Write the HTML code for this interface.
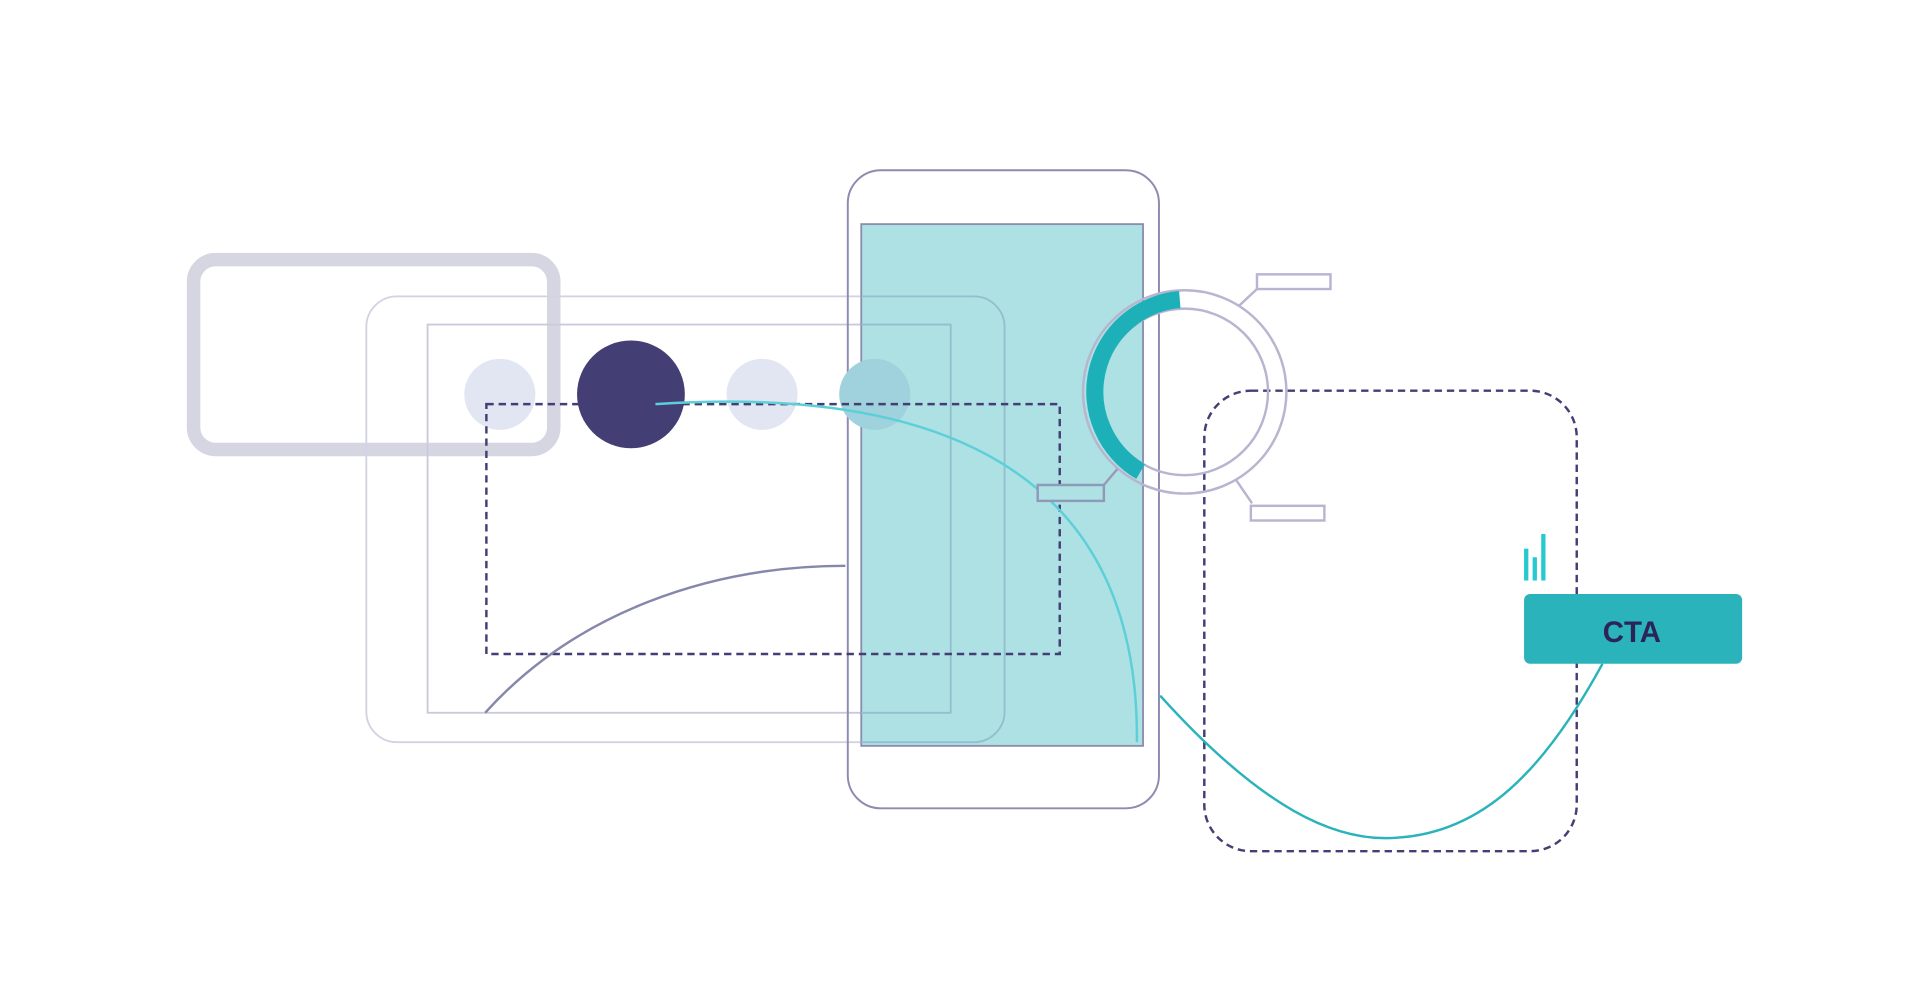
<!DOCTYPE html>
<html><head><meta charset="utf-8"><style>
html,body{margin:0;padding:0;background:#fff;width:1921px;height:981px;overflow:hidden}
svg{display:block}
</style></head><body>
<svg width="1921" height="981" viewBox="0 0 1568 801" preserveAspectRatio="none" xmlns="http://www.w3.org/2000/svg">
<rect x="158" y="212" width="294" height="155" rx="18" fill="none" stroke="#d6d6e3" stroke-width="11"/>
<rect x="299" y="242" width="521" height="364" rx="25" fill="none" stroke="#d3d2e2" stroke-width="1.5"/>
<rect x="349" y="265" width="427" height="317" fill="none" stroke="#cac9dc" stroke-width="1.5"/>
<circle cx="408" cy="322" r="29" fill="#e1e6f2"/>
<circle cx="622" cy="322" r="29" fill="#e1e6f2"/>
<rect x="692" y="139" width="254" height="521" rx="27" fill="none" stroke="#8d8bb0" stroke-width="1.6"/>
<rect x="703" y="183" width="230" height="426" fill="#aee1e3" stroke="#8d8bb0" stroke-width="1.5"/>
<g clip-path="url(#scr)">
<clipPath id="scr"><rect x="703" y="183" width="230" height="426"/></clipPath>
<rect x="299" y="242" width="521" height="364" rx="25" fill="none" stroke="#92bfcd" stroke-width="1.5"/>
<rect x="349" y="265" width="427" height="317" fill="none" stroke="#92bfcd" stroke-width="1.5"/>
</g>
<circle cx="714" cy="322" r="29" fill="#9fd2dc"/>
<circle cx="515" cy="322" r="44" fill="#433f75"/>
<rect x="397" y="330" width="468" height="204" fill="none" stroke="#433f75" stroke-width="2" stroke-dasharray="6 4"/>
<path d="M396,582 C470,500 580,462 690,462" fill="none" stroke="#8688ab" stroke-width="2"/>
<path d="M535,330 C760,315 930,380 928,606" fill="none" stroke="#5ccfd8" stroke-width="2"/>
<rect x="983" y="319" width="304" height="376" rx="38" fill="none" stroke="#433f75" stroke-width="2" stroke-dasharray="6 4"/>
<path d="M947,568 C1030,660 1090,688 1140,684 C1210,680 1260,630 1308,542" fill="none" stroke="#2ab3bb" stroke-width="2"/>
<circle cx="967" cy="320" r="83" fill="none" stroke="#b8b5d0" stroke-width="2"/>
<circle cx="967" cy="320" r="68" fill="none" stroke="#b8b5d0" stroke-width="2"/>
<path d="M963,244.6 A75.5,75.5 0 0 0 931,385" fill="none" stroke="#1eb0b8" stroke-width="14"/>
<path d="M1011,250 L1026,236" stroke="#b8b5d0" stroke-width="2"/>
<rect x="1026" y="224" width="60" height="12" fill="#fff" stroke="#b8b5d0" stroke-width="2"/>
<path d="M912,383 L901,396" stroke="#9a9ab8" stroke-width="2"/>
<rect x="847" y="396" width="54" height="13" fill="#aee1e3" stroke="#8d9ab8" stroke-width="2"/>
<path d="M1009,392 L1022,411" stroke="#b8b5d0" stroke-width="2"/>
<rect x="1021" y="413" width="60" height="12" fill="#fff" stroke="#b8b5d0" stroke-width="2"/>
<rect x="1244" y="448" width="3.5" height="26" fill="#27c9d0"/>
<rect x="1251" y="455" width="3.5" height="19" fill="#27c9d0"/>
<rect x="1258" y="436" width="3.5" height="38" fill="#27c9d0"/>
<rect x="1244" y="485" width="178" height="57" rx="5" fill="#2ab3bb"/>
<text x="1332" y="524" text-anchor="middle" font-family="Liberation Sans, sans-serif" font-weight="bold" font-size="24" fill="#2a2459">CTA</text>
</svg>
</body></html>
